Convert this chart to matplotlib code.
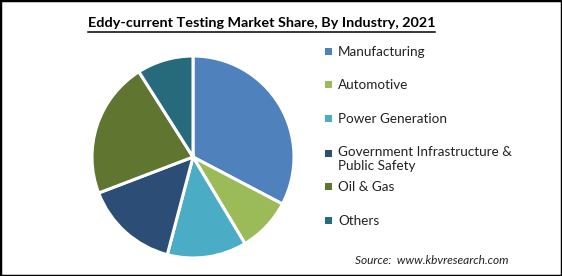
import matplotlib.pyplot as plt
from matplotlib.patches import Rectangle

plt.rcParams['font.family'] = ['Lato', 'DejaVu Sans']

# data
industries = ["Manufacturing", "Automotive", "Power Generation",
              "Government Infrastructure &\nPublic Safety", "Oil & Gas", "Others"]
shares = [32.7, 8.7, 12.7, 15.1, 21.8, 9.0]
colors = ["#4F81BD", "#9BBB59", "#4BACC6", "#2C4D75", "#5F7530", "#276A7C"]

W, H = 562, 276
fig = plt.figure(figsize=(W / 100, H / 100), dpi=100)

# pie axes: center (193,157) px, radius ~101 px
cx, cy, r = 193, 157, 101
ax = fig.add_axes([(cx - r) / W, (H - cy - r) / H, 2 * r / W, 2 * r / H])
ax.pie(shares, colors=colors, startangle=90, counterclock=False,
       radius=1, wedgeprops=dict(edgecolor="white", linewidth=2.2))
ax.set_xlim(-1, 1)
ax.set_ylim(-1, 1)
ax.set_aspect("auto")
ax.axis("off")

# title
fig.text(261.5 / W, 1 - 23 / H, "Eddy-current Testing Market Share, By Industry, 2021",
         ha="center", va="center", fontsize=10.4, fontweight="bold")
fig.add_artist(plt.Line2D([88 / W, 435 / W], [1 - 32 / H, 1 - 32 / H],
                          color="black", linewidth=1.1))

# legend
rows_y = [52, 85, 119, 154, 187, 221]
for lab, col, y in zip(industries, colors, rows_y):
    fig.add_artist(Rectangle((325 / W, 1 - (y + 3) / H), 7 / W, 7 / H,
                             facecolor=col, edgecolor="none"))
    if "\n" in lab:
        fig.text(338 / W, 1 - (y - 8) / H, lab, ha="left", va="top",
                 fontsize=9.7, color="#222222", linespacing=1.2)
    else:
        fig.text(338 / W, 1 - y / H, lab, ha="left", va="center",
                 fontsize=9.7, color="#222222")

# source
fig.text(355 / W, 1 - 261 / H, "Source:  www.kbvresearch.com", ha="left",
         va="center", fontsize=8.6, style="italic", color="#222222")

# border
fig.add_artist(Rectangle((0, 0), 1, 1, transform=fig.transFigure, fill=False,
                         edgecolor="black", linewidth=2.5))

fig.savefig("out.png", dpi=100)
